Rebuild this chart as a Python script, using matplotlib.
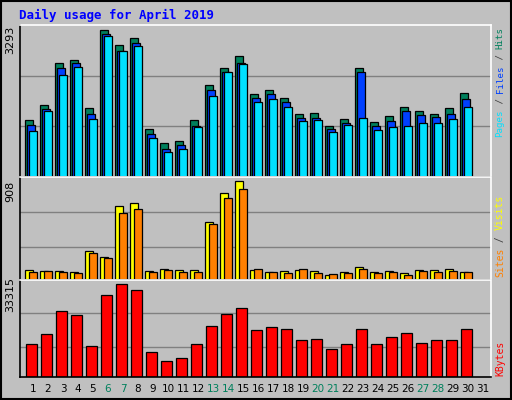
import numpy as np
import matplotlib.pyplot as plt
from matplotlib.patches import Rectangle

days = list(range(1, 32))
weekend = [6, 7, 13, 14, 20, 21, 27, 28]

hits = [1272, 1609, 2548, 2615, 1542, 3293, 2958, 3114, 1073, 760, 805, 1272, 2055, 2436, 2704, 1862, 1952, 1773, 1415, 1438, 1147, 1303, 2436, 1236, 1370, 1572, 1483, 1415, 1542, 1885]
files = [1162, 1520, 2436, 2548, 1415, 3204, 2824, 2995, 961, 626, 715, 1147, 1952, 2347, 2548, 1773, 1862, 1684, 1326, 1326, 1080, 1214, 2347, 1147, 1259, 1483, 1393, 1348, 1415, 1751]
pages = [1028, 1475, 2287, 2466, 1303, 3159, 2824, 2929, 879, 559, 626, 1125, 1810, 2347, 2525, 1684, 1751, 1572, 1259, 1281, 1013, 1169, 1326, 1058, 1125, 1147, 1214, 1214, 1303, 1572]

visits = [92, 82, 82, 72, 269, 210, 682, 711, 82, 101, 92, 92, 531, 800, 908, 92, 72, 82, 92, 82, 43, 72, 121, 72, 82, 62, 92, 92, 101, 72]
sites = [72, 82, 72, 62, 249, 200, 613, 652, 72, 92, 72, 72, 511, 751, 839, 101, 72, 62, 101, 62, 52, 62, 101, 62, 72, 43, 82, 72, 82, 72]

kbytes = [11793, 15441, 23830, 22371, 11064, 29667, 33315, 31126, 8875, 5593, 6687, 11793, 18359, 22735, 24924, 16900, 17994, 17265, 13252, 13617, 9970, 11793, 17265, 11793, 14346, 15805, 12158, 13252, 13252, 17265]

BG = '#c0c0c0'
W, H = 512, 400
fig = plt.figure(figsize=(5.12, 4.0), dpi=100, facecolor=BG)
fig.patches.append(Rectangle((0.002, 0.002), 0.996, 0.996, transform=fig.transFigure,
                             fill=False, edgecolor='black', linewidth=1.5))
fig.text(19 / W, 1 - 15 / H, 'Daily usage for April 2019', color='#0000ff',
         family='DejaVu Sans Mono', fontweight='bold', fontsize=9, va='center')

left, right = 20 / W, (491 - 20) / W
panels = {
    'top': (25, 177),
    'mid': (177, 280),
    'bot': (280, 377),
}


def make_ax(key):
    y0, y1 = panels[key]
    ax = fig.add_axes([left, 1 - y1 / H, right, (y1 - y0) / H], facecolor=BG)
    ax.set_xlim(0.133, 31.53)
    ax.set_xticks([])
    ax.set_yticks([])
    for s in ax.spines.values():
        s.set_linewidth(1.2)
    ax.spines['top'].set_color('white')
    ax.spines['right'].set_color('white')
    return ax


def side_label(pieces, y_bottom, size):
    # stack rotated monospace pieces upward from y_bottom (pixels from top)
    step = 0.602 * size * 100 / 72
    n = 0
    for txt, col in pieces:
        fig.text(500 / W, 1 - (y_bottom - n * step) / H, txt, rotation=90, color=col,
                 family='DejaVu Sans Mono', fontsize=size, va='bottom', ha='center')
        n += len(txt)


x = np.arange(1, 31)
kw = dict(edgecolor='black', linewidth=0.9, align='edge')

ax = make_ax('top')
top = 3293 * 151.5 / 147
ax.set_ylim(0, top)
for g in (top / 3, 2 * top / 3):
    ax.axhline(g, color='#808080', linewidth=1, zorder=0)
ax.bar(x - 0.51, hits, width=0.49, color='#00805c', **kw)
ax.bar(x - 0.38, files, width=0.49, color='#0040ff', **kw)
ax.bar(x - 0.25, pages, width=0.49, color='#00e0ff', **kw)
fig.text(10 / W, 1 - 40 / H, '3293', rotation=90, fontsize=8, va='center', ha='center')
side_label([('Pages', '#00e0ff'), (' / ', '#404040'), ('Files', '#0040ff'),
            (' / ', '#404040'), ('Hits', '#00805c')], 137, 6.6)

ax = make_ax('mid')
top = 908 * (305 - 16) / 277
ax.set_ylim(0, top)
for g in (908 * 0.33, 908 * 0.686):
    ax.axhline(g, color='#808080', linewidth=1, zorder=0)
ax.bar(x - 0.51, visits, width=0.53, color='#ffff00', **kw)
ax.bar(x - 0.25, sites, width=0.49, color='#ff8000', **kw)
fig.text(10 / W, 1 - 191 / H, '908', rotation=90, fontsize=8, va='center', ha='center')
side_label([('Sites', '#ff8000'), (' / ', '#404040'), ('Visits', '#ffff00')], 277, 7)

ax = make_ax('bot')
top = 33315 * (602 - 315) / 274
ax.set_ylim(0, top)
for g in (33315 * 0.32, 33315 * 0.686):
    ax.axhline(g, color='#808080', linewidth=1, zorder=0)
ax.bar(x - 0.45, kbytes, width=0.69, color='#ff0000', **kw)
fig.text(10 / W, 1 - 295 / H, '33315', rotation=90, fontsize=8, va='center', ha='center')
side_label([('KBytes', '#ff0000')], 376, 7)

for d in days:
    xp = (33 + (d - 1) * 15) / W
    fig.text(xp, 1 - 389 / H, str(d), color='#00805c' if d in weekend else 'black',
             fontsize=7.5, ha='center', va='center')

fig.savefig('out.png', dpi=100, facecolor=BG)
